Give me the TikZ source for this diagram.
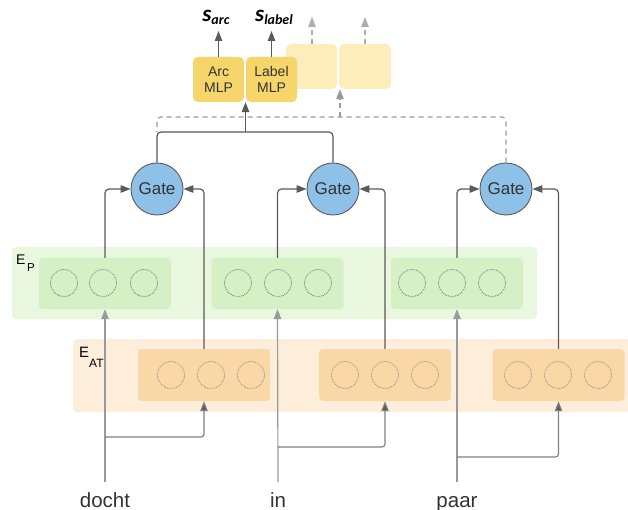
\documentclass[tikz,border=0pt]{standalone}
\usepackage{fontspec}
\setmainfont{Liberation Sans}
\newfontfamily\serifB{Carlito}
\usetikzlibrary{arrows.meta}
\definecolor{pOut}{HTML}{EAF7DF}
\definecolor{pIn}{HTML}{D5F0C4}
\definecolor{aOut}{HTML}{FDEEDC}
\definecolor{aIn}{HTML}{FAD7A6}
\definecolor{gateC}{HTML}{8EC1E8}
\definecolor{mlpC}{HTML}{F6D56A}
\definecolor{fadeC}{HTML}{FCEDBA}
\definecolor{darkL}{HTML}{5A5A5A}
\definecolor{lightL}{HTML}{9A9A9A}
\definecolor{midL}{HTML}{808080}
\definecolor{txtC}{HTML}{333333}
\begin{document}
\begin{tikzpicture}[x=1pt,y=-1pt,
  tip/.style={-{Triangle[length=10pt,width=7.5pt]}},
  outerbox/.style={rectangle,rounded corners=4pt,draw=none,inner sep=0pt},
  pbox/.style={rectangle,rounded corners=4pt,fill=pIn,draw=none,minimum width=132pt,minimum height=51pt,inner sep=0pt},
  abox/.style={rectangle,rounded corners=4pt,fill=aIn,draw=none,minimum width=132pt,minimum height=52pt,inner sep=0pt},
  unit/.style={circle,draw=black!55,densely dotted,line width=0.8pt,minimum size=27pt,inner sep=0pt},
  gate/.style={circle,fill=gateC,draw=darkL,line width=0.9pt,minimum size=52pt,inner sep=0pt,text=txtC,font=\fontsize{17}{19}\selectfont},
  mlp/.style={rectangle,rounded corners=5pt,fill=mlpC,draw=none,minimum width=51pt,minimum height=45pt,inner sep=0pt,text=txtC,align=center,font=\fontsize{14}{16.5}\selectfont},
  fade/.style={rectangle,rounded corners=5pt,fill=fadeC,draw=none,minimum width=51pt,minimum height=45pt,inner sep=0pt},
  word/.style={anchor=base,text=txtC,font=\fontsize{20.5}{24}\selectfont},
  solidl/.style={draw=darkL,line width=1.2pt},
  lightl/.style={draw=lightL,line width=1.2pt},
  bendl/.style={draw=midL,line width=1.2pt},
  dashl/.style={draw=lightL,line width=1.2pt,dash pattern=on 5pt off 4pt},
  slab/.style={anchor=base,text=black,font=\serifB\bfseries\itshape\fontsize{23}{24}\selectfont}
]
\useasboundingbox (0,0) rectangle (628,510);
\fill[white] (0,0) rectangle (628,510);

% E_P layer
\node[outerbox,fill=pOut,minimum width=525pt,minimum height=72pt] (ep) at (274.5,283) {};
\node[pbox] (p1) at (105,283.5) {};
\node[pbox] (p2) at (277.5,283.5) {};
\node[pbox] (p3) at (457,283.5) {};
\foreach \x/\n in {64/a,103/b,144/c,238/d,278/e,318/f,412/g,452/h,492/i}
  \node[unit] (pu\n) at (\x,283) {};
\node[anchor=base west,text=black,font=\fontsize{14}{14}\selectfont,inner sep=0pt] (eplab) at (16,265) {E\hspace{1.5pt}\raisebox{-6pt}{\fontsize{11.5}{11.5}\selectfont P}};

% E_AT layer
\node[outerbox,fill=aOut,minimum width=572pt,minimum height=73pt] (eat) at (359,375.5) {};
\node[abox] (a1) at (204,375) {};
\node[abox] (a2) at (385,375) {};
\node[abox] (a3) at (558.5,375) {};
\foreach \x/\n in {171/a,211/b,251/c,345/d,385/e,425/f,518/g,558/h,598/i}
  \node[unit,draw=black!45] (au\n) at (\x,375) {};
\node[anchor=base west,text=black,font=\fontsize{15}{15}\selectfont,inner sep=0pt] (eatlab) at (79,357) {E\raisebox{-10pt}{\fontsize{12}{12}\selectfont AT}};

% gates
\node[gate] (g1) at (157,189) {Gate};
\node[gate] (g2) at (333,189) {Gate};
\node[gate] (g3) at (506,189) {Gate};

% MLPs
\node[fade] (f1) at (311.5,66.5) {};
\node[fade,minimum width=52pt] (f2) at (365,66.5) {};
\node[mlp] (arc) at (218.5,79.5) {Arc\\MLP};
\node[mlp] (lbl) at (271.5,79.5) {Label\\MLP};

% output labels
\node[slab] (sarc) at (216,22) {s\raisebox{-3pt}{\fontsize{14}{14}\selectfont arc}};
\node[slab] (slabel) at (274,22) {s\raisebox{-3pt}{\fontsize{14}{14}\selectfont label}};
\coordinate (tA) at (218.5,31);
\coordinate (tL) at (271.5,31);
\draw[solidl,tip] (arc.north) -- (tA);
\draw[solidl,tip] (lbl.north) -- (tL);
\coordinate (tf1) at (312,17);
\coordinate (tf2) at (365,17);
\draw[dashl,-{Triangle[length=10pt,width=7.5pt]},draw=lightL!80] (f1.north -| tf1) -- (tf1);
\draw[dashl,-{Triangle[length=10pt,width=7.5pt]},draw=lightL!80] (f2.north -| tf2) -- (tf2);

% words
\node[word] (w1) at (105,507) {docht};
\node[word] (w2) at (278,507) {in};
\node[word] (w3) at (457,507) {paar};
\coordinate (b1) at (105,482);
\coordinate (b2) at (278,482);
\coordinate (b3) at (457,482);
\coordinate (k1) at (105,437);
\coordinate (k2) at (278,447);
\coordinate (k3) at (457,457);

% word lines to E_P
\draw[lightl,tip] (b1) -- (p1.south);
\draw[lightl,tip] (b2) -- (p2.south);
\draw[lightl,tip] (b3) -- (p3.south);
% bends to E_AT
\draw[bendl,rounded corners=3pt,-{Triangle[length=10pt,width=7.5pt,fill=darkL]}] (k1) -| (a1.south);
\draw[bendl,rounded corners=3pt,-{Triangle[length=10pt,width=7.5pt,fill=darkL]}] (k2) -| (a2.south);
\draw[bendl,rounded corners=3pt,-{Triangle[length=10pt,width=7.5pt,fill=darkL]}] (k3) -| (a3.south);

% into gates
\draw[solidl,tip,rounded corners=4pt] (p1.north) |- (g1.west);
\draw[solidl,tip,rounded corners=4pt] (a1.north) |- (g1.east);
\draw[solidl,tip,rounded corners=4pt] (p2.north) |- (g2.west);
\draw[solidl,tip,rounded corners=4pt] (a2.north) |- (g2.east);
\draw[solidl,tip,rounded corners=4pt] (p3.north) |- (g3.west);
\draw[solidl,tip,rounded corners=4pt] (a3.north) |- (g3.east);

% gate outputs
\coordinate (jn) at (245.5,132);
\coordinate (jd) at (340,117);
\draw[dashl,rounded corners=4pt] (g3.north) |- (157,117) -- (157,132);
\draw[dashl,-{Triangle[length=10pt,width=7.5pt]}] (jd) -- (jd |- f2.south);
\draw[solidl,rounded corners=4pt] (g1.north) |- (jn) -| (g2.north);
\draw[solidl,tip] (jn) -- (jn |- arc.south);
\end{tikzpicture}
\end{document}
